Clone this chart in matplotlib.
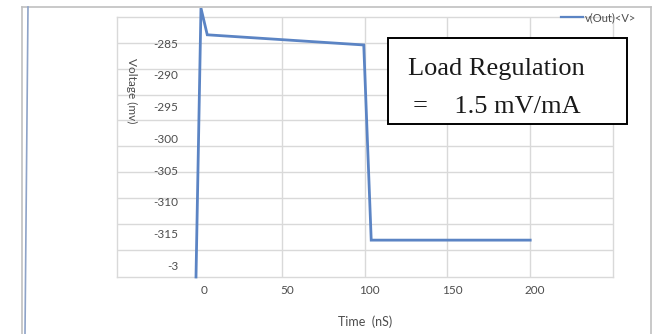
import numpy as np
import matplotlib
matplotlib.use("Agg")
import matplotlib.pyplot as plt
from matplotlib.lines import Line2D
from matplotlib.patches import Rectangle
import matplotlib.transforms as mtransforms

# data (time in nS, voltage in mV)
time_ns = [-1.8, 1.2, 5.0, 99.5, 104.0, 200.0]
v_out_mv = [-321.8, -279.5, -283.7, -285.3, -316.0, -316.0]

y_ticks = [-285, -290, -295, -300, -305, -310, -315, -320]
y_tick_labels = ["-285", "-290", "-295", "-300", "-305", "-310", "-315", "-3"]
x_ticks = [0, 50, 100, 150, 200]
x_tick_labels = ["0", "50", "100", "150", "200"]

legend_label = "v(Out)<V>"
note_line1 = "Load Regulation"
note_line2 = "=    1.5 mV/mA"

LINE_COLOR = "#5b84c4"
GRID_COLOR = "#d9d9d9"
TEXT_GRAY = "#4d4d4d"


def plot_chart():
    fig = plt.figure(figsize=(6.59, 3.34), dpi=100)
    W, H = 659.0, 334.0

    # plot area in pixels: left 117, right 613, top 17, bottom 277
    ax = fig.add_axes([117 / W, (H - 277) / H, (613 - 117) / W, (277 - 17) / H])
    ax.set_xlim(-49.5, 250)
    ax.set_ylim(-321.8, -280.9)

    # grid lines (not aligned with labels in the reference image)
    for gx in [50, 100, 150, 200]:
        ax.axvline(gx, color=GRID_COLOR, lw=1.0, zorder=0)
    for gy in np.arange(-285, -319, -4.06):
        ax.axhline(gy, color=GRID_COLOR, lw=1.0, zorder=0)

    ax.plot(time_ns, v_out_mv, color=LINE_COLOR, lw=2.0, clip_on=False,
            solid_joinstyle="miter", zorder=3, label=legend_label)

    for s in ax.spines.values():
        s.set_color(GRID_COLOR)
        s.set_linewidth(1.0)

    ax.set_yticks(y_ticks)
    ax.set_yticklabels(y_tick_labels)
    ax.set_xticks(x_ticks)
    ax.set_xticklabels(x_tick_labels)
    ax.tick_params(axis="y", length=0, pad=-44, labelsize=8.5, labelcolor=TEXT_GRAY)
    ax.tick_params(axis="x", length=0, pad=6, labelsize=8.5, labelcolor=TEXT_GRAY)
    for lab in ax.get_yticklabels() + ax.get_xticklabels():
        lab.set_fontfamily("Lato")
    # x labels sit a bit to the right of their grid lines
    offset = mtransforms.ScaledTranslation(5 / 100, 0, fig.dpi_scale_trans)
    for lab in ax.get_xticklabels():
        lab.set_transform(lab.get_transform() + offset)

    ax.set_xlabel("Time  (nS)", fontsize=9, color=TEXT_GRAY, family="Lato", labelpad=14)
    ax.set_ylabel("Voltage (mv)", fontsize=8.5, color=TEXT_GRAY, family="Lato", rotation=270)
    ax.yaxis.set_label_coords(0.018, 0.715)

    leg = ax.legend(loc="upper right", bbox_to_anchor=(1.055, 1.035), frameon=False,
                    fontsize=8, handlelength=2.0, handletextpad=0.1, borderaxespad=0)
    for t in leg.get_texts():
        t.set_color(TEXT_GRAY)
        t.set_family("Lato")
    for h in leg.get_lines():
        h.set_linewidth(1.6)

    # outer chart frame
    fr = dict(color="#c0c0c0", lw=1.2, transform=fig.transFigure)
    fig.add_artist(Line2D([22 / W, 651 / W], [1 - 7 / H, 1 - 7 / H], **fr))
    fig.add_artist(Line2D([22 / W, 22 / W], [0, 1 - 7 / H], **fr))
    fig.add_artist(Line2D([651 / W, 651 / W], [0, 1 - 7 / H], **fr))
    fig.add_artist(Line2D([28 / W, 25 / W], [1 - 7 / H, 0], color="#8ea3c8",
                          lw=1.2, transform=fig.transFigure))

    # text box with the load regulation note
    box = Rectangle((388 / W, 1 - 124 / H), (627 - 388) / W, (124 - 38) / H,
                    transform=fig.transFigure, facecolor="white",
                    edgecolor="black", lw=1.4, zorder=5)
    fig.add_artist(box)
    fig.text(408 / W, 1 - 75 / H, note_line1, family="Liberation Serif",
             fontsize=19, color="#1a1a1a", va="baseline", zorder=6)
    fig.text(413 / W, 1 - 113 / H, note_line2, family="Liberation Serif",
             fontsize=19, color="#1a1a1a", va="baseline", zorder=6)

    fig.savefig("out.png", dpi=100)
    plt.close(fig)


def main():
    plot_chart()


if __name__ == "__main__":
    main()
